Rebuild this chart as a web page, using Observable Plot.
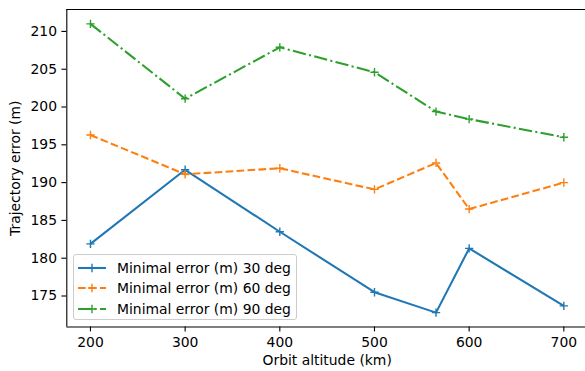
<!DOCTYPE html>
<html><head><meta charset="utf-8">
<script src="https://cdn.jsdelivr.net/npm/d3@7"></script>
<script src="https://cdn.jsdelivr.net/npm/@observablehq/plot@0.6"></script>
<style>
body{margin:0;background:#fff;}
#wrap{position:relative;width:585px;height:371px;overflow:hidden;}
#legend{position:absolute;left:73px;top:254px;width:224px;height:66px;box-sizing:border-box;border:1px solid #cccccc;border-radius:3px;background:rgba(255,255,255,0.8);font-family:"DejaVu Sans";font-size:13.9px;color:#000;}
.row{position:absolute;left:0;height:20px;display:flex;align-items:center;white-space:nowrap;}
.row svg{margin-left:4px;margin-right:11px;}
</style></head>
<body><div id="wrap"></div>
<script>
const altitudes=[200,300,400,500,565,600,700];
const err30=[181.9,191.7,183.5,175.5,172.8,181.3,173.7];
const err60=[196.3,191.1,191.9,189.1,192.6,186.5,190.0];
const err90=[211.0,201.1,207.9,204.6,199.4,198.4,196.0];
const seriesNames=["Minimal error (m) 30 deg","Minimal error (m) 60 deg","Minimal error (m) 90 deg"];
const colors=["#1f77b4","#ff7f0e","#2ca02c"];
const dashes=[null,"7.7,3.3","13.3,3.3,2.1,3.3"];
const xTicks=[200,300,400,500,600,700];
const yTicks=[175,180,185,190,195,200,205,210];
const xLabel="Orbit altitude (km)";
const yLabel="Trajectory error (m)";

const xDomain=[175,725];
const yDomain=[170.9,212.9];

const seriesValues=[err30,err60,err90];
const series=seriesValues.map((vals,i)=>altitudes.map((a,j)=>({x:a,y:vals[j],name:seriesNames[i]})));

const plus={draw(ctx,size){const a=Math.sqrt(size/Math.PI);ctx.moveTo(-a,0);ctx.lineTo(a,0);ctx.moveTo(0,-a);ctx.lineTo(0,a);}};

const marks=[];
series.forEach((d,i)=>{
  marks.push(Plot.line(d,{x:"x",y:"y",stroke:colors[i],strokeWidth:2.08,strokeDasharray:dashes[i]||undefined,strokeLinejoin:"round",strokeLinecap:"butt"}));
  marks.push(Plot.dot(d,{x:"x",y:"y",symbol:plus,r:4.15,stroke:colors[i],fill:"none",strokeWidth:1.4}));
});

const chart=Plot.plot({
  width:585,height:371,
  marginLeft:66.3,marginRight:-2,marginTop:9,marginBottom:44.5,
  style:{fontFamily:"DejaVu Sans",fontSize:"13.9px",color:"#000",background:"#fff"},
  x:{domain:xDomain},
  y:{domain:yDomain},
  marks:[
    ...marks,
    Plot.ruleX([xDomain[0]],{stroke:"#000",strokeWidth:1.1}),
    Plot.ruleY([yDomain[0]],{stroke:"#000",strokeWidth:1.1}),
    Plot.ruleY([yDomain[1]],{stroke:"#000",strokeWidth:1.1}),
    Plot.axisX(xTicks,{tickSize:4.9,tickPadding:4.9,strokeWidth:1.1,fontSize:13.9,label:null,tickFormat:d=>String(d)}),
    Plot.axisY(yTicks,{tickSize:4.9,tickPadding:4.9,strokeWidth:1.1,fontSize:13.9,label:null,tickFormat:d=>String(d)}),
    Plot.text([xLabel],{text:d=>d,frameAnchor:"bottom",lineAnchor:"middle",textAnchor:"middle",dy:33.7,fontSize:13.9}),
    Plot.text([yLabel],{text:d=>d,frameAnchor:"left",lineAnchor:"middle",textAnchor:"middle",dx:-50.8,rotate:-90,fontSize:13.9})
  ]
});
const wrap=document.getElementById("wrap");
wrap.appendChild(chart);

const legend=document.createElement("div");
legend.id="legend";
const rowTops=[3.3,23.3,43.7];
seriesNames.forEach((n,i)=>{
  const row=document.createElement("div");
  row.className="row";
  row.style.top=rowTops[i]+"px";
  const dash=dashes[i]?`stroke-dasharray="${dashes[i]}"`:"";
  row.innerHTML=`<svg width="28" height="20"><line x1="0" x2="28" y1="10" y2="10" stroke="${colors[i]}" stroke-width="2.08" ${dash}/><path d="M9.85,10h8.3M14,5.85v8.3" stroke="${colors[i]}" stroke-width="1.4" fill="none"/></svg><span>${n}</span>`;
  legend.appendChild(row);
});
wrap.appendChild(legend);
</script>
</body></html>
